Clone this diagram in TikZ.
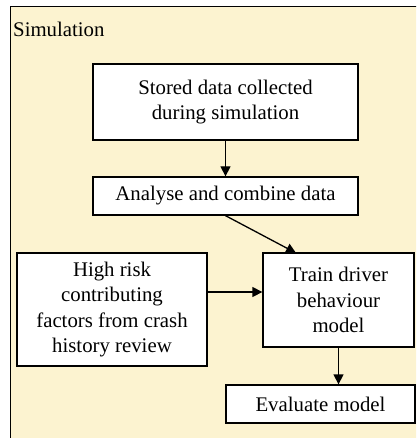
\documentclass[tikz,border=0pt]{standalone}
\usepackage{fontspec}
\setmainfont{Liberation Serif}
\usetikzlibrary{arrows.meta}
\definecolor{simbg}{RGB}{252,243,208}

\begin{document}
\begin{tikzpicture}[x=1pt,y=-1pt,
  box/.style={draw, fill=white, line width=1.3pt, align=center, inner sep=0pt,
    font=\fontsize{20.8}{25.5}\selectfont},
  flow/.style={-{Triangle[length=10pt,width=10pt]}, line width=1.3pt}]
\useasboundingbox (0,0) rectangle (416,438);
%frame
\begin{scope}
\clip (0,0) rectangle (416,438);
\fill[white] (0,0) rectangle (416,438);
\draw[fill=simbg, line width=1pt] (10,7) rectangle (425,450);
\end{scope}
\node[anchor=west, inner sep=0pt, font=\fontsize{20.8}{25.5}\selectfont] (simlabel) at (13,29) {Simulation};
%boxes
\node[box, minimum width=265pt, minimum height=76pt] (stored) at (225.5,102) {Stored data collected\\during simulation};
\node[box, minimum width=265pt, minimum height=38pt] (analyse) at (225.5,196) {Analyse and combine data};
\node[box, minimum width=190pt, minimum height=113pt] (risk) at (112,309.5) {High risk\\contributing\\factors from crash\\history review};
\node[box, minimum width=151pt, minimum height=94pt] (train) at (338.5,300) {Train driver\\behaviour\\model};
\node[box, minimum width=189pt, minimum height=38pt] (evaluate) at (320.5,404) {Evaluate model};
\coordinate (tin) at (296,253);
\coordinate (rmid) at (235,292);
%arrows
\draw[flow] (stored) -- (analyse);
\draw[flow] (analyse.south) -- (tin);
\draw[flow] (risk.east |- rmid) -- (train.west |- rmid);
\draw[flow] (train.south) -- (train.south |- evaluate.north);
\end{tikzpicture}
\end{document}
